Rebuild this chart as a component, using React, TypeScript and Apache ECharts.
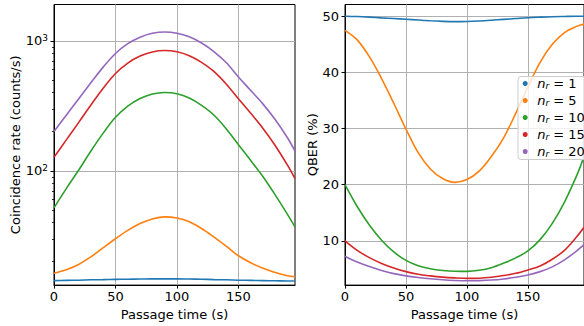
import React, { useEffect, useRef } from 'react';
import * as echarts from 'echarts';

const times = [0, 10, 20, 30, 40, 50, 60, 70, 80, 90, 100, 110, 120, 130, 140, 150, 160, 170, 180, 190, 196];

const seriesNames = ['n_r = 1', 'n_r = 5', 'n_r = 10', 'n_r = 15', 'n_r = 20'];
const colors = ['#1f77b4', '#ff7f0e', '#2ca02c', '#d62728', '#9467bd'];

// Coincidence rate (counts/s)
const rate1 = [14.3, 14.35, 14.4, 14.5, 14.55, 14.6, 14.65, 14.7, 14.75, 14.75, 14.75, 14.7, 14.65, 14.55, 14.5, 14.4, 14.35, 14.3, 14.25, 14.2, 14.2];
const rate5 = [16.3, 17.3, 19.0, 21.8, 25.6, 30.0, 34.8, 39.3, 42.6, 44.2, 43.3, 40.5, 36.0, 31.0, 26.3, 22.2, 19.6, 17.8, 16.5, 15.6, 15.3];
const rate10 = [52, 73, 101, 142, 195, 258, 315, 360, 390, 401, 392, 363, 319, 269, 211, 159, 120, 90, 65, 46, 37];
const rate15 = [127, 173, 235, 321, 432, 561, 675, 764, 822, 843, 824, 769, 684, 582, 466, 358, 277, 212, 156, 110, 87];
const rate20 = [201, 268, 357, 476, 628, 800, 951, 1067, 1143, 1170, 1146, 1074, 962, 828, 681, 527, 415, 326, 247, 179, 142];

// QBER (%)
const qber1 = [50.0, 49.95, 49.85, 49.72, 49.6, 49.47, 49.33, 49.2, 49.1, 49.05, 49.08, 49.17, 49.3, 49.45, 49.6, 49.75, 49.85, 49.93, 49.97, 50.0, 50.0];
const qber5 = [47.5, 45.8, 42.8, 38.9, 34.5, 29.9, 25.7, 22.8, 21.1, 20.4, 20.9, 22.4, 25.0, 28.3, 32.7, 37.4, 41.8, 45.0, 47.1, 48.2, 48.6];
const qber10 = [20.0, 16.1, 12.8, 10.1, 8.0, 6.5, 5.55, 5.0, 4.7, 4.56, 4.55, 4.74, 5.2, 6.0, 6.95, 8.2, 10.2, 13.1, 16.9, 21.6, 25.0];
const qber15 = [10.0, 8.3, 7.0, 5.96, 5.14, 4.5, 4.03, 3.74, 3.52, 3.38, 3.3, 3.33, 3.5, 3.8, 4.2, 4.8, 5.5, 6.7, 8.3, 10.7, 12.4];
const qber20 = [7.25, 6.2, 5.4, 4.7, 4.14, 3.74, 3.45, 3.22, 3.05, 2.93, 2.87, 2.9, 3.0, 3.2, 3.5, 3.9, 4.5, 5.35, 6.6, 8.2, 9.3];

const rateSeries = [rate1, rate5, rate10, rate15, rate20];
const qberSeries = [qber1, qber5, qber10, qber15, qber20];

const xTicks = [0, 50, 100, 150];
const rateMajorTicks = [100, 1000];
const rateMinorTicks = [20, 30, 40, 50, 60, 70, 80, 90, 200, 300, 400, 500, 600, 700, 800, 900];
const qberTicks = [10, 20, 30, 40, 50];

const FONT = 'DejaVu Sans';

function pairs(ys: number[]) {
  return times.map((t, i) => [t, ys[i]]);
}

export default function App() {
  const ref = useRef<HTMLDivElement>(null);
  useEffect(() => {
    if (!ref.current) return;
    const chart = echarts.init(ref.current, undefined, { renderer: 'svg' });
    const gridLine = { show: true, lineStyle: { color: '#b0b0b0', width: 1 } };
    const axisLine = { show: true, onZero: false, lineStyle: { color: '#000', width: 1 } };
    const tickLabel = { color: '#000', fontSize: 13, fontFamily: FONT };
    const nameStyle = { color: '#000', fontSize: 13, fontFamily: FONT };

    const xAxisBase = (gridIndex: number) => ({
      type: 'value',
      gridIndex,
      min: 0,
      max: 196,
      axisLine,
      axisTick: { show: true, length: 3.5, customValues: xTicks, lineStyle: { color: '#000', width: 1 } },
      axisLabel: { ...tickLabel, customValues: xTicks, margin: 5 },
      splitLine: gridLine,
      name: 'Passage time (s)',
      nameLocation: 'middle',
      nameGap: 20,
      nameTextStyle: nameStyle,
    });

    const series: any[] = [];
    rateSeries.forEach((d, i) => {
      series.push({
        type: 'line',
        name: seriesNames[i],
        xAxisIndex: 0,
        yAxisIndex: 0,
        data: pairs(d),
        showSymbol: false,
        smooth: 0.35,
        lineStyle: { color: colors[i], width: 1.6 },
        itemStyle: { color: colors[i] },
      });
    });
    qberSeries.forEach((d, i) => {
      series.push({
        type: 'line',
        name: seriesNames[i],
        xAxisIndex: 1,
        yAxisIndex: 2,
        data: pairs(d),
        showSymbol: false,
        smooth: 0.35,
        lineStyle: { color: colors[i], width: 1.6 },
        itemStyle: { color: colors[i] },
      });
    });

    chart.setOption({
      animation: false,
      textStyle: { fontFamily: FONT },
      grid: [
        { left: 54, top: 4.5, width: 241, height: 285, show: true, borderColor: '#000', borderWidth: 1, backgroundColor: 'transparent' },
        { left: 345, top: 4.5, width: 242, height: 285, show: true, borderColor: '#000', borderWidth: 1, backgroundColor: 'transparent' },
      ],
      xAxis: [xAxisBase(0), xAxisBase(1)],
      yAxis: [
        {
          type: 'log',
          logBase: 10,
          gridIndex: 0,
          position: 'left',
          min: 13.2,
          max: 1905,
          axisLine,
          axisTick: { show: true, length: 3.5, customValues: rateMajorTicks, lineStyle: { color: '#000', width: 1 } },
          axisLabel: {
            ...tickLabel,
            customValues: rateMajorTicks,
            margin: 6,
            formatter: (v: number) => (v >= 999 ? '{b|10}{s|3}' : '{b|10}{s|2}'),
            rich: {
              b: { fontSize: 13, lineHeight: 15, color: '#000', fontFamily: FONT },
              s: { fontSize: 9, lineHeight: 9, verticalAlign: 'top', color: '#000', fontFamily: FONT },
            },
          },
          splitLine: gridLine,
          name: 'Coincidence rate (counts/s)',
          nameLocation: 'middle',
          nameGap: 31,
          nameTextStyle: nameStyle,
        },
        {
          type: 'log',
          logBase: 10,
          gridIndex: 0,
          position: 'left',
          offset: 0,
          min: 13.2,
          max: 1905,
          axisLine: { show: false },
          axisTick: { show: true, length: 2, customValues: rateMinorTicks, lineStyle: { color: '#000', width: 0.8 } },
          axisLabel: { show: false },
          splitLine: { show: false },
        },
        {
          type: 'value',
          gridIndex: 1,
          position: 'left',
          min: 2.1,
          max: 52.1,
          axisLine,
          axisTick: { show: true, length: 3.5, customValues: qberTicks, lineStyle: { color: '#000', width: 1 } },
          axisLabel: { ...tickLabel, customValues: qberTicks, margin: 6 },
          splitLine: gridLine,
          name: 'QBER (%)',
          nameLocation: 'middle',
          nameGap: 26.5,
          nameTextStyle: nameStyle,
        },
      ],
      legend: {
        data: seriesNames,
        orient: 'vertical',
        left: 518,
        top: 76.5,
        icon: 'circle',
        itemWidth: 14,
        itemHeight: 5,
        itemGap: 3,
        padding: [0, 6, 1, 4.7],
        backgroundColor: 'rgba(255,255,255,0.8)',
        borderColor: '#cccccc',
        borderWidth: 1,
        borderRadius: 3,
        formatter: (name: string) => '{i|n}{s|r}{t| = ' + name.split('= ')[1] + '}',
        textStyle: {
          color: '#000',
          fontFamily: FONT,
          fontSize: 13,
          lineHeight: 14,
          rich: {
            i: { fontStyle: 'italic', fontSize: 13, lineHeight: 14, color: '#000', fontFamily: FONT },
            s: { fontStyle: 'italic', fontSize: 9, lineHeight: 9, verticalAlign: 'bottom', color: '#000', fontFamily: FONT },
            t: { fontSize: 13, lineHeight: 14, color: '#000', fontFamily: FONT },
          },
        },
      },
      series,
    });
    return () => chart.dispose();
  }, []);
  return <div ref={ref} style={{ position: 'fixed', left: 0, top: 0, width: 584, height: 326, background: '#fff' }} />;
}
